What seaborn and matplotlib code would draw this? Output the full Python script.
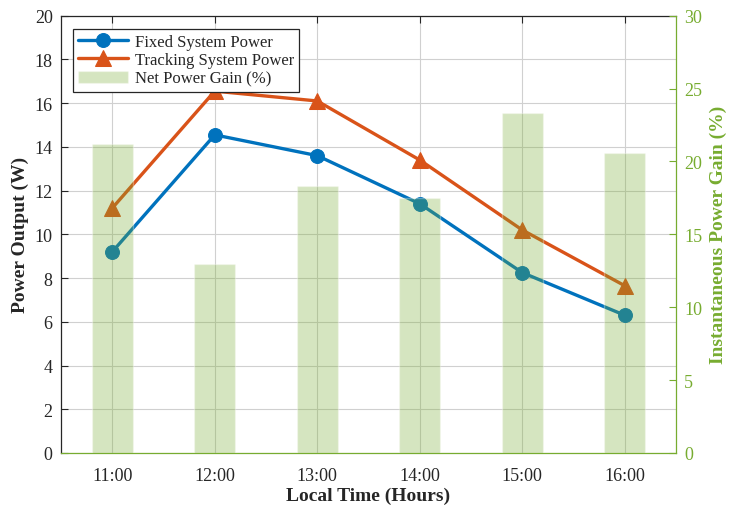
import matplotlib
matplotlib.use("Agg")
import matplotlib.pyplot as plt
import seaborn as sns
import numpy as np
import pandas as pd

times = ["11:00", "12:00", "13:00", "14:00", "15:00", "16:00"]
fixed_power = [9.2, 14.55, 13.6, 11.4, 8.25, 6.3]
tracking_power = [11.2, 16.55, 16.1, 13.4, 10.2, 7.65]
net_gain = [21.2, 13.0, 18.3, 17.5, 23.3, 20.6]
left_ticks = [0, 2, 4, 6, 8, 10, 12, 14, 16, 18, 20]
right_ticks = [0, 5, 10, 15, 20, 25, 30]

sns.set_theme(style="white")
plt.rcParams['font.family'] = ['Liberation Serif', 'DejaVu Serif']

BLUE = "#0072BD"
ORANGE = "#D95319"
GREEN = "#77AC30"
DARK = "#262626"

df = pd.DataFrame({"time": times, "fixed": fixed_power,
                   "tracking": tracking_power, "gain": net_gain})
x = np.arange(len(times))

fig = plt.figure(figsize=(7.29, 5.10), dpi=100)
ax = fig.add_axes([61/729, 1-454/510, (676-61)/729, (454-16.7)/510])
ax2 = ax.twinx()

sns.lineplot(x=x, y=df["fixed"], ax=ax, color=BLUE, lw=2.4, marker="o",
             markersize=10, markeredgecolor=BLUE, label="Fixed System Power",
             legend=False)
sns.lineplot(x=x, y=df["tracking"], ax=ax, color=ORANGE, lw=2.4, marker="^",
             markersize=12, markeredgecolor=ORANGE, label="Tracking System Power",
             legend=False)
ax2.bar(x, df["gain"], width=0.4, color=GREEN, alpha=0.3, label="Net Power Gain (%)",
        zorder=3)

ax.set_xlim(-0.5, 5.5)
ax.set_ylim(0, 20)
ax2.set_ylim(0, 30)
ax.set_xticks(x)
ax.set_xticklabels(times)
ax.set_yticks(left_ticks)
ax2.set_yticks(right_ticks)

ax.grid(True, color="#d0d0d0", lw=0.8)
ax.set_axisbelow(True)

ax.tick_params(axis="both", direction="in", length=5, width=0.8, labelsize=13,
               colors=DARK, top=True, right=False, pad=6)
ax.tick_params(axis="x", pad=10)
ax2.tick_params(axis="y", direction="in", length=5, width=0.8, labelsize=13,
                colors=GREEN, pad=6)

for s in ["left", "top"]:
    ax.spines[s].set_color(DARK)
    ax.spines[s].set_linewidth(0.9)
ax2.spines["right"].set_color(GREEN)
ax2.spines["bottom"].set_color(GREEN)
ax2.spines["left"].set_visible(False)
ax2.spines["top"].set_visible(False)
ax.spines["right"].set_visible(False)
ax.spines["bottom"].set_visible(False)
for s in ["right", "bottom"]:
    ax2.spines[s].set_linewidth(0.9)
    ax2.spines[s].set_visible(True)

ax.set_xlabel("Local Time (Hours)", fontsize=14, fontweight="bold", color=DARK,
              labelpad=2)
ax.set_ylabel("Power Output (W)", fontsize=14, fontweight="bold", color=DARK,
              labelpad=4)
ax2.set_ylabel("Instantaneous Power Gain (%)", fontsize=14, fontweight="bold",
               color=GREEN, labelpad=5)

h1, l1 = ax.get_legend_handles_labels()
h2, l2 = ax2.get_legend_handles_labels()
leg = ax2.legend(h1 + h2, l1 + l2, loc="upper left", bbox_to_anchor=(0.02, 0.97),
                 fontsize=12, frameon=True, fancybox=False, framealpha=1,
                 edgecolor=DARK, borderpad=0.3, labelspacing=0.15,
                 handlelength=3.0, handletextpad=0.4, borderaxespad=0)
leg.get_frame().set_linewidth(0.9)

fig.savefig("out.png", dpi=100)
